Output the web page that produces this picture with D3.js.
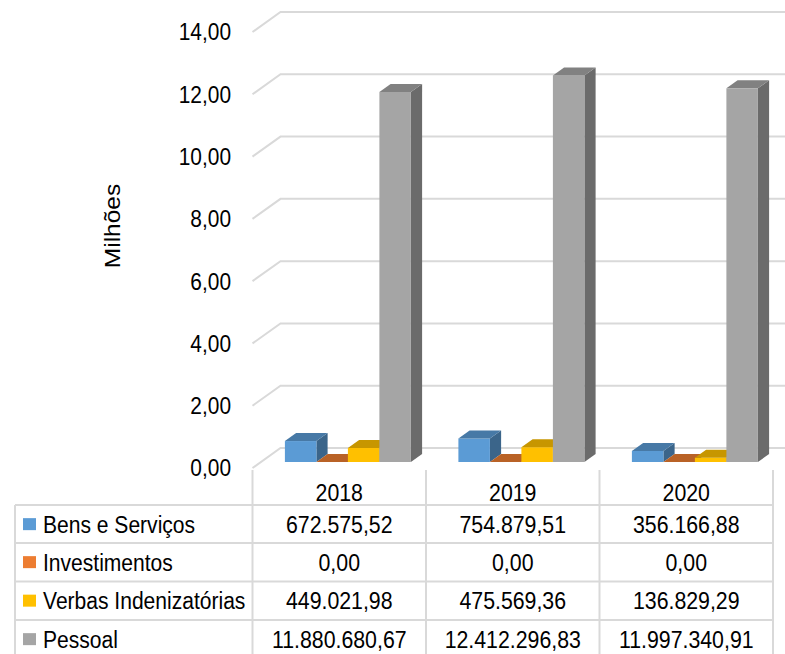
<!DOCTYPE html>
<html>
<head>
<meta charset="utf-8">
<script src="https://cdn.jsdelivr.net/npm/d3@7"></script>
<style>
  body { margin: 0; background: #fff; }
  svg text { font-family: "Liberation Sans", Arial, sans-serif; fill: #000; }
</style>
</head>
<body>
<svg id="chart" width="785" height="654"></svg>
<script>
// === Données ===
const anos = ['2018', '2019', '2020'];
const series = ['Bens e Serviços', 'Investimentos', 'Verbas Indenizatórias', 'Pessoal'];
const bensServicos = [672575.52, 754879.51, 356166.88];
const investimentos = [0.00, 0.00, 0.00];
const verbasIndenizatorias = [449021.98, 475569.36, 136829.29];
const pessoal = [11880680.67, 12412296.83, 11997340.91];
const yTicks = [0, 2, 4, 6, 8, 10, 12, 14];

const cores = ['#5B9BD5', '#ED7D31', '#FFC000', '#A5A5A5'];
const valores = [bensServicos, investimentos, verbasIndenizatorias, pessoal];

const ptBR = d3.formatLocale({ decimal: ',', thousands: '.', grouping: [3], currency: ['R$', ''] });
const fmt = ptBR.format(',.2f');

const svg = d3.select('#chart');
const W = 785;
const SQ = 0.87; // texte un peu compressé en largeur

// profondeur 3D (décalage du mur du fond)
const DX = 28, DY = -20;
const x0 = 252.5, xEnd = 773;

const x = d3.scaleBand().domain(anos).range([x0, xEnd]);
const xs = d3.scaleBand().domain(series).range([24, 150]);
const y = d3.scaleLinear().domain([0, 14]).range([468, 32]);

// texte positionné avec compression horizontale
function texte(g, tx, ty, str, size, anchor) {
  return g.append('text')
    .attr('transform', `translate(${tx},${ty}) scale(${SQ},1)`)
    .attr('dy', '0.35em')
    .attr('text-anchor', anchor || 'start')
    .style('font-size', size + 'px')
    .text(str);
}

// === Grille (mur gauche + fond) ===
const grid = svg.append('g').attr('stroke', '#d9d9d9').attr('stroke-width', 2).attr('fill', 'none');
yTicks.forEach(t => {
  grid.append('path')
    .attr('d', `M${x0},${y(t)}L${x0 + DX},${y(t) + DY}L${W},${y(t) + DY}`);
});

// labels axe Y
const axe = svg.append('g');
yTicks.forEach(t => texte(axe, 231, y(t), fmt(t), 24, 'end'));

svg.append('text')
  .attr('transform', `translate(113,226) scale(${SQ},1) rotate(-90)`)
  .attr('dy', '0.35em')
  .attr('text-anchor', 'middle')
  .style('font-size', '24.5px')
  .text('Milhões');

// === Barres 3D ===
const f0 = 0.3, prof = 0.4;
const bdx = DX * prof, bdy = DY * prof;
const shade = (c, k) => { const r = d3.rgb(c); return d3.rgb(r.r * k, r.g * k, r.b * k).formatHex(); };

const barres = svg.append('g');
anos.forEach((ano, ai) => {
  series.forEach((s, si) => {
    const v = valores[si][ai] / 1e6;
    const xf = x(ano) + xs(s) + DX * f0;
    const w = xs.bandwidth();
    const yb = y(0) + DY * f0;
    const yt = y(v) + DY * f0;
    const g = barres.append('g');
    // face de côté
    g.append('path')
      .attr('d', `M${xf + w},${yt}L${xf + w + bdx},${yt + bdy}L${xf + w + bdx},${yb + bdy}L${xf + w},${yb}Z`)
      .attr('fill', shade(cores[si], 0.65));
    // face avant
    g.append('rect')
      .attr('x', xf).attr('y', yt)
      .attr('width', w).attr('height', yb - yt)
      .attr('fill', cores[si]);
    // dessus
    g.append('path')
      .attr('d', `M${xf},${yt}L${xf + w},${yt}L${xf + w + bdx},${yt + bdy}L${xf + bdx},${yt + bdy}Z`)
      .attr('fill', shade(cores[si], 0.78));
  });
});

// === Tableau de données ===
const tab = svg.append('g');
const linhas = [505, 543, 581.5, 620];
const rowH = 38.3;
const bords = tab.append('g').attr('stroke', '#d9d9d9').attr('stroke-width', 2);

[x0, ...anos.map(a => x(a) + x.bandwidth())].forEach(xx => {
  bords.append('line').attr('x1', xx).attr('x2', xx).attr('y1', 470).attr('y2', 654);
});
bords.append('line').attr('x1', 15).attr('x2', 15).attr('y1', 505).attr('y2', 654);
linhas.forEach(ly => {
  bords.append('line').attr('x1', 15).attr('x2', xEnd).attr('y1', ly).attr('y2', ly);
});

anos.forEach(a => texte(tab, x(a) + x.bandwidth() / 2, 492, a, 24.5, 'middle'));

series.forEach((s, si) => {
  const cy = linhas[si] + rowH / 2;
  tab.append('rect')
    .attr('x', 23).attr('y', cy - 6)
    .attr('width', 13).attr('height', 12)
    .attr('fill', cores[si]);
  texte(tab, 43, cy, s, 24.2);
  anos.forEach((ano, ai) => {
    texte(tab, x(ano) + x.bandwidth() / 2, cy, fmt(valores[si][ai]), 24.5, 'middle');
  });
});
</script>
</body>
</html>
